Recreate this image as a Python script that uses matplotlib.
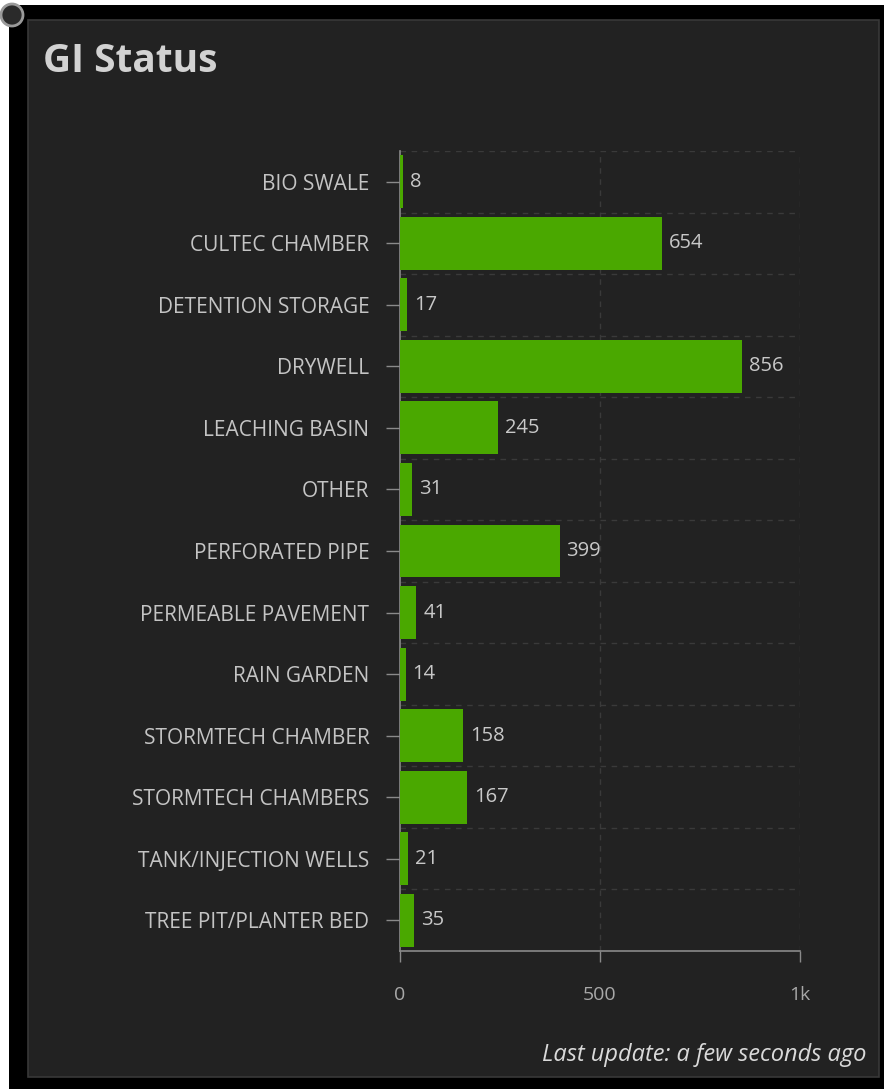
import matplotlib.pyplot as plt
from matplotlib.patches import Rectangle, Ellipse

categories = ['BIO SWALE', 'CULTEC CHAMBER', 'DETENTION STORAGE', 'DRYWELL',
              'LEACHING BASIN', 'OTHER', 'PERFORATED PIPE', 'PERMEABLE PAVEMENT',
              'RAIN GARDEN', 'STORMTECH CHAMBER', 'STORMTECH CHAMBERS',
              'TANK/INJECTION WELLS', 'TREE PIT/PLANTER BED']
counts = [8, 654, 17, 856, 245, 31, 399, 41, 14, 158, 167, 21, 35]
x_ticks = [0, 500, 1000]
x_tick_labels = ['0', '500', '1k']

W, H = 884, 1089
plt.rcParams['font.family'] = ['Open Sans', 'DejaVu Sans']

fig = plt.figure(figsize=(W / 100, H / 100), dpi=100)
fig.patch.set_facecolor('white')

# outer black frame and dark card
fig.patches.append(Rectangle((9 / W, 0), 1, 1 - 5 / H, transform=fig.transFigure,
                             facecolor='black', edgecolor='none', zorder=0))
fig.patches.append(Rectangle((28 / W, 1 - 1077 / H), (879 - 28) / W, (1077 - 20) / H,
                             transform=fig.transFigure, facecolor='#222222',
                             edgecolor='#383838', linewidth=1.2, zorder=1))
fig.patches.append(Ellipse((12 / W, 1 - 15 / H), 22 / W, 22 / H, transform=fig.transFigure,
                           facecolor='#2a2a2a', edgecolor='#9a9a9a', linewidth=2, zorder=2))

fig.text(43 / W, 1 - 62 / H, 'GI Status', color='#d2d2d2', fontsize=28,
         fontweight='bold', va='center', ha='left')
fig.text(866 / W, 1 - 1055 / H, 'Last update: a few seconds ago', color='#dadada',
         fontsize=17, style='italic', va='center', ha='right')

ax = fig.add_axes([400 / W, 138 / H, 400 / W, 800 / H])
ax.set_zorder(5)
ax.set_facecolor('none')

ypos = list(range(len(categories)))
ax.barh(ypos, counts, height=0.86, color='#4aa800', zorder=3)
for y, v in zip(ypos, counts):
    ax.annotate(str(v), (v, y), xytext=(5, 0), textcoords='offset points',
                va='center', ha='left', color='#c8c8c8', fontsize=14.5)

ax.set_xlim(0, 1000)
ax.set_ylim(len(categories) - 0.5, -0.5)
ax.set_yticks(ypos)
ax.set_yticklabels(categories)
ax.set_xticks(x_ticks)
ax.set_xticklabels(x_tick_labels)

# dashed grid between bands and at x ticks
for b in range(len(categories)):
    ax.axhline(b - 0.5, color='#3a3a3a', lw=1, ls=(0, (4, 4)), zorder=1)
for xv in x_ticks[1:]:
    ax.axvline(xv, color='#3a3a3a', lw=1, ls=(0, (4, 4)), zorder=1)

for side in ['top', 'right']:
    ax.spines[side].set_visible(False)
for side in ['left', 'bottom']:
    ax.spines[side].set_color('#8a8a8a')
    ax.spines[side].set_linewidth(1.2)

ax.tick_params(axis='y', colors='#8a8a8a', length=10, width=1, pad=12,
               labelcolor='#c4c4c4', labelsize=15)
ax.tick_params(axis='x', colors='#8a8a8a', length=8, width=1, pad=17,
               labelcolor='#a8a8a8', labelsize=14)

fig.savefig('out.png', dpi=100, facecolor=fig.get_facecolor())
